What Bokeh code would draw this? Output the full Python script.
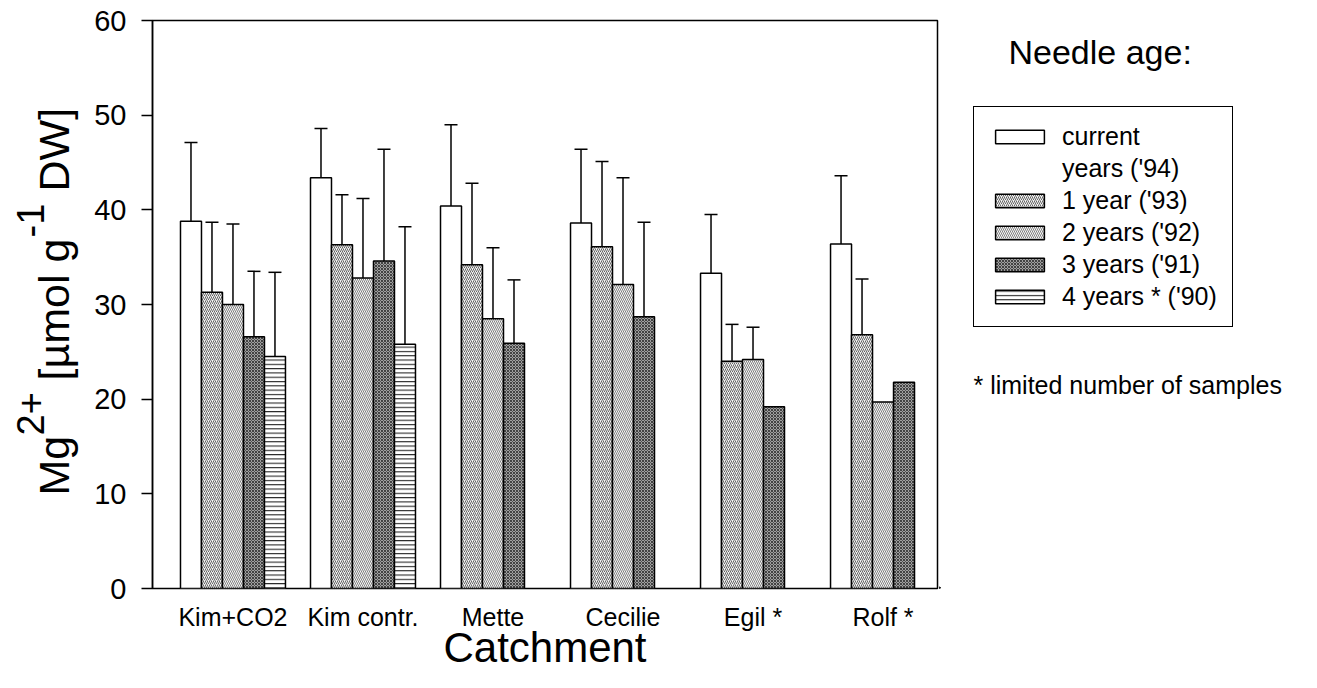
import math
from bokeh.plotting import figure
from bokeh.layouts import row
from bokeh.models import (ColumnDataSource, Legend, LegendItem, Label, Range1d,
                          FixedTicker, Whisker, TeeHead)
from bokeh.embed import file_html
from bokeh.resources import INLINE

# ---------------- data ----------------
catchments = ["Kim+CO2", "Kim contr.", "Mette", "Cecilie", "Egil *", "Rolf *"]
series_labels = ["current", "1 year ('93)", "2 years ('92)",
                 "3 years ('91)", "4 years * ('90)"]
current_label_line2 = "years ('94)"

nan = float("nan")
current_94 = [38.8, 43.4, 40.4, 38.6, 33.3, 36.4]
current_94_upper = [47.1, 48.6, 49.0, 46.4, 39.5, 43.6]
year1_93 = [31.3, 36.3, 34.2, 36.1, 24.0, 26.8]
year1_93_upper = [38.7, 41.6, 42.8, 45.1, 27.9, 32.7]
year2_92 = [30.0, 32.8, 28.5, 32.1, 24.2, 19.7]
year2_92_upper = [38.5, 41.2, 36.0, 43.4, 27.6, nan]
year3_91 = [26.6, 34.6, 25.9, 28.7, 19.2, 21.8]
year3_91_upper = [33.5, 46.4, 32.6, 38.7, nan, nan]
year4_90 = [24.5, 25.8, nan, nan, nan, nan]
year4_90_upper = [33.4, 38.2, nan, nan, nan, nan]

y_ticks = [0, 10, 20, 30, 40, 50, 60]

series_values = [current_94, year1_93, year2_92, year3_91, year4_90]
series_upper = [current_94_upper, year1_93_upper, year2_92_upper,
                year3_91_upper, year4_90_upper]

# ---------------- styles ----------------
FONT = "Liberation Sans"
styles = [
    dict(fill_color="white"),
    dict(fill_color="#f2f2f2", hatch_pattern="/", hatch_color="#4a4a4a",
         hatch_scale=4, hatch_weight=0.85),
    dict(fill_color="#f7f7f7", hatch_pattern="\\", hatch_color="#6a6a6a",
         hatch_scale=4, hatch_weight=0.85),
    dict(fill_color="#a0a0a0", hatch_pattern="x", hatch_color="#2a2a2a",
         hatch_scale=3, hatch_weight=0.8),
    dict(fill_color="white", hatch_pattern="-", hatch_color="#2a2a2a",
         hatch_scale=4.3, hatch_weight=1.1),
]

bar_w = 0.1615
n_series = len(series_values)
H = 688
TOP = 20
BOTTOM = 100
FRAME_H = H - TOP - BOTTOM
LEFT_W = 80
MAIN_W = 859
SIDE_W = 1317 - LEFT_W - MAIN_W


def cy(canvas_y):
    """canvas pixel row -> data y of the helper strips (frame is TOP..H-BOTTOM)"""
    return (H - BOTTOM) - canvas_y


# ---------------- main chart ----------------
p = figure(width=MAIN_W, height=H, output_backend="svg", toolbar_location=None,
           x_range=Range1d(-0.619, 5.419), y_range=Range1d(0, 60),
           min_border_left=72, min_border_right=2, min_border_top=TOP,
           min_border_bottom=BOTTOM)
p.background_fill_color = "white"
p.border_fill_color = "white"
p.outline_line_color = "black"
p.outline_line_width = 1.5
p.xgrid.visible = False
p.ygrid.visible = False

for k in range(n_series):
    xs, tops, wx, wlo, whi = [], [], [], [], []
    for i, v in enumerate(series_values[k]):
        if math.isnan(v):
            continue
        x = i + (k - (n_series - 1) / 2) * bar_w
        xs.append(x)
        tops.append(v)
        u = series_upper[k][i]
        if not math.isnan(u):
            wx.append(x)
            wlo.append(v)
            whi.append(u)
    src = ColumnDataSource(dict(x=xs, top=tops))
    p.vbar(x="x", top="top", bottom=0, width=bar_w, source=src,
           line_color="black", line_width=1.5, **styles[k])
    wsrc = ColumnDataSource(dict(base=wx, lower=wlo, upper=whi))
    p.add_layout(Whisker(base="base", lower="lower", upper="upper", source=wsrc,
                         line_color="black", line_width=1.5, lower_head=None,
                         upper_head=TeeHead(size=13, line_color="black",
                                            line_width=1.5)))

p.xaxis.ticker = FixedTicker(ticks=list(range(len(catchments))))
p.xaxis.major_label_overrides = {i: c for i, c in enumerate(catchments)}
p.xaxis.major_tick_out = 0
p.xaxis.major_tick_in = 0
p.xaxis.minor_tick_line_color = None
p.xaxis.axis_line_color = None
p.xaxis.major_label_text_font = FONT
p.xaxis.major_label_text_font_size = "25px"
p.xaxis.major_label_text_color = "black"
p.xaxis.major_label_standoff = 14
p.xaxis.axis_label = "Catchment"
p.xaxis.axis_label_text_font = FONT
p.xaxis.axis_label_text_font_size = "42px"
p.xaxis.axis_label_text_font_style = "normal"
p.xaxis.axis_label_text_color = "black"
p.xaxis.axis_label_standoff = -10

p.yaxis.ticker = FixedTicker(ticks=y_ticks)
p.yaxis.major_tick_out = 11
p.yaxis.major_tick_in = 0
p.yaxis.major_tick_line_width = 1.5
p.yaxis.minor_tick_line_color = None
p.yaxis.axis_line_width = 1.5
p.yaxis.major_label_text_font = FONT
p.yaxis.major_label_text_font_size = "29px"
p.yaxis.major_label_text_color = "black"
p.yaxis.major_label_standoff = 15


def strip(width):
    f = figure(width=width, height=H, output_backend="svg",
               toolbar_location=None,
               x_range=Range1d(0, width), y_range=Range1d(0, FRAME_H),
               x_axis_type=None, y_axis_type=None,
               min_border_left=0, min_border_right=0,
               min_border_top=TOP, min_border_bottom=BOTTOM)
    f.outline_line_color = None
    f.xgrid.visible = False
    f.ygrid.visible = False
    f.border_fill_color = "white"
    f.background_fill_color = "white"
    return f


# ---------------- left strip: y axis title ----------------
lf = strip(LEFT_W)
BIG = 43
SUP = 38
rot = math.pi / 2
# (text, font size, x of the text's middle line, start row from the top)
title_parts = [
    ("Mg", BIG, 53, 495),
    ("2+", SUP, 30, 435),
    ("[\u00b5mol g", BIG, 53, 380),
    ("-1", SUP, 30, 237),
    ("DW]", BIG, 53, 191),
]
for txt, size, xx, yy in title_parts:
    lf.add_layout(Label(x=xx, y=cy(yy), text=txt, angle=rot, text_font=FONT,
                        text_font_size=f"{size}px", text_color="black",
                        text_align="left", text_baseline="middle"))

# ---------------- right strip: legend and notes ----------------
sf = strip(SIDE_W)
items = []
for k in range(n_series):
    # off-screen proxy glyph, only used to draw the legend swatch
    r = sf.vbar(x=[-500], top=[1], bottom=0, width=1, line_color="black",
                line_width=1.5, **styles[k])
    items.append(LegendItem(label=series_labels[k], renderers=[r]))
    if k == 0:
        blank = sf.vbar(x=[-500], top=[1], bottom=0, width=1,
                        line_alpha=0, fill_alpha=0)
        items.append(LegendItem(label=current_label_line2, renderers=[blank]))

legend = Legend(items=items, location=(973 - 939, (H - BOTTOM) - 327),
                border_line_color="black", border_line_width=1.5,
                border_line_alpha=1.0,
                background_fill_color="white", background_fill_alpha=1.0,
                label_text_font=FONT, label_text_font_size="25px",
                label_text_color="black",
                glyph_width=61, glyph_height=17, label_standoff=12,
                padding=15, spacing=3, margin=0)
sf.add_layout(legend, "center")

sf.add_layout(Label(x=1008 - 939, y=cy(51), text="Needle age:", text_font=FONT,
                    text_font_size="34px", text_color="black",
                    text_baseline="middle"))
sf.add_layout(Label(x=973 - 939, y=cy(384), text="* limited number of samples",
                    text_font=FONT, text_font_size="25px", text_color="black",
                    text_baseline="middle"))

layout = row(lf, p, sf, spacing=0)
open("out.html", "w").write(file_html(layout, INLINE))
